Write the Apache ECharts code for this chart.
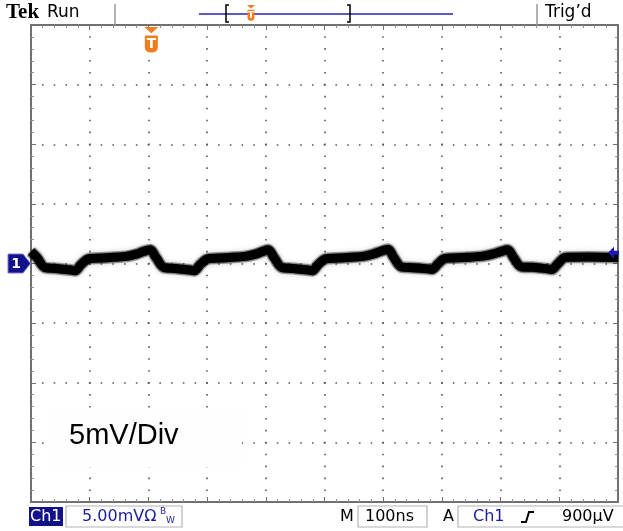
<!DOCTYPE html>
<html lang="en">
<head>
<meta charset="utf-8">
<title>Tek Run - Ch1 5mV/Div</title>
<script src="https://cdn.jsdelivr.net/npm/echarts@6/dist/echarts.min.js"></script>
<style>
    html, body {
        margin: 0;
        padding: 0;
        background: #ffffff;
    }

    #main {
        width: 623px;
        height: 531px;
    }
</style>
</head>
<body>
<div id="main"></div>
<script type="text/javascript">
    // screen: 10 div x 100ns, 8 div x 5mV, ground at centre
    const timeNs = [
        0, 10, 24, 43, 68, 75, 85, 95, 102, 136, 162, 179, 191,
        203, 213, 227, 246, 271, 278, 288, 298, 305, 339, 365, 382, 394,
        404, 414, 428, 447, 472, 479, 489, 499, 506, 540, 566, 583, 596,
        608, 618, 632, 651, 676, 683, 693, 703, 710, 744, 770, 787, 800,
        812, 822, 836, 855, 880, 887, 897, 907, 914, 950, 1000
    ];
    const traceMv = [
        1.0, 0.5, -0.35, -0.42, -0.55, -0.6, -0.1, 0.33, 0.42, 0.5, 0.6, 0.78, 1.0,
        1.15, 0.5, -0.35, -0.42, -0.55, -0.6, -0.1, 0.33, 0.42, 0.5, 0.6, 0.78, 1.0,
        1.15, 0.5, -0.35, -0.42, -0.55, -0.6, -0.1, 0.33, 0.42, 0.5, 0.6, 0.8, 1.02,
        1.2, 0.5, -0.3, -0.35, -0.45, -0.5, -0.05, 0.38, 0.45, 0.52, 0.62, 0.8, 1.0,
        1.15, 0.5, -0.3, -0.32, -0.45, -0.5, -0.05, 0.45, 0.52, 0.55, 0.5
    ];
    const timeRange = [0, 1000];     // ns
    const voltRange = [-20, 20];     // mV
    const timePerDiv = 100;
    const voltPerDiv = 5;
    const groundMv = 0;
    const triggerLevelMv = 0.9;
    const triggerTimeNs = 205;

    const SANS = '"DejaVu Sans", sans-serif';
    const BLUE = '#1c1ca0';
    const ORANGE = '#f07d1e';

    let chart = echarts.init(document.getElementById('main'), null, {renderer: 'canvas'});

    function frameAxis(pos, range, step, split, dash) {
        return {
            type: 'value',
            position: pos,
            min: range[0],
            max: range[1],
            interval: step,
            axisLine: {show: true, onZero: false, lineStyle: {color: '#707070', width: 2}},
            axisTick: {show: true, inside: true, length: 5, lineStyle: {color: '#707070'}},
            minorTick: {show: true, splitNumber: 5, length: 3, lineStyle: {color: '#909090'}},
            axisLabel: {show: false},
            splitLine: {
                show: split,
                lineStyle: {color: '#555555', width: 1.6, type: dash, dashOffset: 0.8}
            }
        };
    }

    let points = [];
    for (let i = 0; i < timeNs.length; i++) {
        points.push([timeNs[i], traceMv[i]]);
    }

    chart.setOption({
        animation: false,
        backgroundColor: '#ffffff',
        grid: {left: 31, right: 5, top: 25, bottom: 29},
        xAxis: [
            frameAxis('bottom', timeRange, timePerDiv, true, [1.6, 10.33]),
            frameAxis('top', timeRange, timePerDiv, false, 'solid')
        ],
        yAxis: [
            frameAxis('left', voltRange, voltPerDiv, true, [1.6, 10.14]),
            frameAxis('right', voltRange, voltPerDiv, false, 'solid')
        ],
        series: [
            {
                // fuzzy halo of the noisy trace
                type: 'line',
                data: points,
                showSymbol: false,
                smooth: 0.35,
                lineStyle: {color: 'rgba(0,0,0,0.3)', width: 12, shadowBlur: 5, shadowColor: 'rgba(0,0,0,0.5)'},
                z: 2
            },
            {
                type: 'line',
                data: points,
                showSymbol: false,
                smooth: 0.35,
                lineStyle: {color: '#000000', width: 9, shadowBlur: 2, shadowColor: 'rgba(0,0,0,0.7)'},
                z: 3
            }
        ]
    });

    // marker positions from the axes
    let gnd = chart.convertToPixel({xAxisIndex: 0, yAxisIndex: 0}, [timeRange[0], groundMv]);
    let trg = chart.convertToPixel({xAxisIndex: 0, yAxisIndex: 0}, [timeRange[1], triggerLevelMv]);
    let tpx = chart.convertToPixel({xAxisIndex: 0}, triggerTimeNs);

    function txt(s, x, y, size, color, family, weight) {
        return {
            type: 'text', z: 120,
            style: {
                text: s, x: x, y: y, fill: color,
                fontSize: size, fontFamily: family || SANS, fontWeight: weight || 'normal',
                verticalAlign: 'middle', align: 'left'
            }
        };
    }

    function tMarker(cx, top, w, h) {
        // orange trigger "T" shield with a small arrow on top
        let sy = top + w * 0.6;
        return [
            {type: 'polygon', z: 120, shape: {points: [[cx - w / 2, top], [cx + w / 2, top], [cx, top + w * 0.45]]}, style: {fill: ORANGE}},
            {type: 'rect', z: 120, shape: {x: cx - w / 2 + 0.5, y: sy, width: w - 1, height: h, r: [1, 1, 5, 5]}, style: {fill: ORANGE}},
            {type: 'text', z: 121, style: {text: 'T', x: cx, y: sy + h / 2 + 0.5, fill: '#ffffff', fontSize: h * 0.8, fontWeight: 'bold', fontFamily: SANS, align: 'center', verticalAlign: 'middle'}}
        ];
    }

    let g = [];
    // header
    g.push(txt('Tek', 6, 13, 21, '#000000', '"Liberation Serif", serif', 'bold'));
    g.push(txt('Run', 47, 13, 17, '#000000'));
    g.push({type: 'line', z: 120, shape: {x1: 115, y1: 4, x2: 115, y2: 25}, style: {stroke: '#9a9a9a', lineWidth: 1.5}});
    g.push({type: 'line', z: 120, shape: {x1: 199, y1: 14, x2: 453, y2: 14}, style: {stroke: '#5a5ac0', lineWidth: 2}});
    g.push({type: 'polyline', z: 120, shape: {points: [[229, 5], [226, 5], [226, 22], [229, 22]]}, style: {stroke: '#000', lineWidth: 1.5, fill: null}});
    g.push({type: 'polyline', z: 120, shape: {points: [[347, 5], [350, 5], [350, 22], [347, 22]]}, style: {stroke: '#000', lineWidth: 1.5, fill: null}});
    g = g.concat(tMarker(251, 5, 8, 11));
    g.push({type: 'line', z: 120, shape: {x1: 537, y1: 4, x2: 537, y2: 25}, style: {stroke: '#9a9a9a', lineWidth: 1.5}});
    g.push(txt('Trig\u2019d', 545, 13, 17, '#000000'));

    // trigger position marker under the frame
    g = g.concat(tMarker(tpx, 27, 14, 17));

    // ground marker "1"
    let gy = gnd[1];
    g.push({type: 'polygon', z: 120, shape: {points: [[8, gy - 9.5], [23, gy - 9.5], [30.5, gy], [23, gy + 9.5], [8, gy + 9.5]]}, style: {fill: '#12128a', stroke: '#7a7ad8', lineWidth: 1}});
    g.push({type: 'text', z: 121, style: {text: '1', x: 16, y: gy + 0.5, fill: '#ffffff', fontSize: 14, fontWeight: 'bold', fontFamily: SANS, align: 'center', verticalAlign: 'middle'}});

    // trigger level arrow on the right
    let ty = trg[1];
    let tx = trg[0];
    g.push({type: 'polygon', z: 120, shape: {points: [[tx - 10, ty], [tx - 4, ty - 6], [tx - 4, ty - 2], [tx + 1, ty - 2], [tx + 1, ty + 2], [tx - 4, ty + 2], [tx - 4, ty + 6]]}, style: {fill: '#1a1ab0'}});

    // "5mV/Div" note
    g.push({type: 'rect', z: 110, shape: {x: 48, y: 408, width: 194, height: 59}, style: {fill: '#fefefe'}});
    g.push(txt('5mV/Div', 69, 436, 29, '#000000', '"Liberation Sans", Arial, sans-serif'));

    // readout strip
    g.push({type: 'rect', z: 120, shape: {x: 29, y: 507, width: 34, height: 19}, style: {fill: '#11118a'}});
    g.push(txt('Ch1', 30, 517, 16, '#ffffff'));
    g.push({type: 'rect', z: 120, shape: {x: 66, y: 506, width: 116, height: 21}, style: {fill: null, stroke: '#b4b4b4', lineWidth: 1.2}});
    g.push(txt('5.00mV\u03a9', 82, 517, 16, BLUE));
    g.push(txt('B', 160, 512, 9, BLUE));
    g.push(txt('W', 166, 521, 9, BLUE));
    g.push(txt('M', 340, 517, 16, '#000000'));
    g.push({type: 'rect', z: 120, shape: {x: 358, y: 506, width: 69, height: 21}, style: {fill: null, stroke: '#b4b4b4', lineWidth: 1.2}});
    g.push(txt('100ns', 365, 517, 16, '#000000'));
    g.push(txt('A', 443, 517, 16, '#000000'));
    g.push({type: 'rect', z: 120, shape: {x: 458, y: 506, width: 170, height: 21}, style: {fill: null, stroke: '#b4b4b4', lineWidth: 1.2}});
    g.push(txt('Ch1', 473, 517, 16, BLUE));
    g.push({type: 'polyline', z: 120, shape: {points: [[521, 522], [526, 522], [529, 512], [534, 512]]}, style: {stroke: '#000', lineWidth: 2, fill: null}});
    g.push(txt('900\u00b5V', 562, 517, 16, '#000000'));

    chart.setOption({graphic: g});
</script>
</body>
</html>
